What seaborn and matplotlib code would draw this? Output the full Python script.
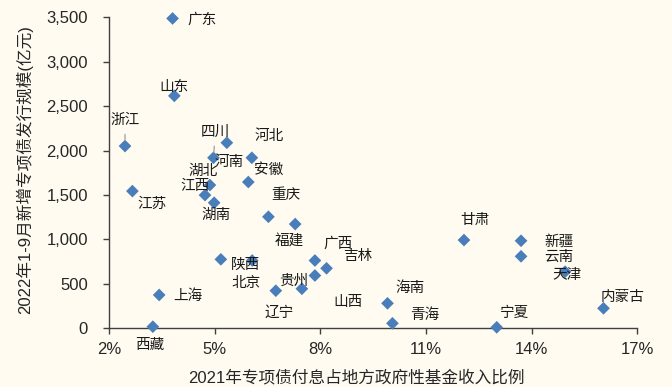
import matplotlib
matplotlib.use('Agg')
import matplotlib.pyplot as plt
import matplotlib.ticker as mticker
import seaborn as sns
import pandas as pd

# data
provinces = ['广东', '山东', '浙江', '四川', '河南', '河北', '安徽', '湖北', '江西', '湖南',
             '江苏', '重庆', '福建', '陕西', '北京', '上海', '西藏', '辽宁', '贵州', '广西',
             '吉林', '山西', '海南', '青海', '甘肃', '新疆', '云南', '天津', '宁夏', '内蒙古']
ratio = [3.81, 3.86, 2.46, 4.97, 5.35, 6.06, 5.96, 4.87, 4.73, 4.99,
         2.67, 6.53, 7.29, 5.18, 6.07, 3.43, 3.25, 6.74, 7.48, 7.85,
         8.18, 7.85, 9.91, 10.05, 12.08, 13.70, 13.70, 14.95, 13.01, 16.04]
issuance = [3487, 2616, 2051, 1919, 2088, 1919, 1646, 1612, 1499, 1413,
            1544, 1255, 1173, 776, 763, 375, 18, 423, 445, 763,
            675, 594, 281, 56, 993, 985, 810, 637, 11, 225]
x_ticks = [2, 5, 8, 11, 14, 17]
y_ticks = [0, 500, 1000, 1500, 2000, 2500, 3000, 3500]

# label placement in pixels (right, down) from each point
label_offsets = {
    '广东': (29, 1), '山东': (0, -9), '浙江': (0, -26), '四川': (2, -26), '河南': (2, 19),
    '河北': (17, -22), '安徽': (20, -12), '湖北': (-7, -14), '江西': (-10, -9), '湖南': (2, 12),
    '江苏': (20, 13), '重庆': (17, -22), '福建': (-6, 18), '陕西': (25, 6), '北京': (-6, 23),
    '上海': (29, 1), '西藏': (-3, 18), '辽宁': (3, 22), '贵州': (-8, -8), '广西': (23, -17),
    '吉林': (31, -12), '山西': (33, 26), '海南': (23, -15), '青海': (32, -8), '甘肃': (11, -20),
    '新疆': (38, 1), '云南': (38, 1), '天津': (2, 3), '宁夏': (18, -14), '内蒙古': (19, -11),
}
leader = ['浙江', '四川']

df = pd.DataFrame({'province': provinces, 'ratio': ratio, 'issuance': issuance})

sns.set_style('ticks')
plt.rcParams['font.family'] = ['Liberation Sans', 'Noto Sans CJK SC']
bg = '#FFFBF0'

fig = plt.figure(figsize=(6.72, 3.87), dpi=100, facecolor=bg)
ax = fig.add_axes([0.1619, 0.1517, 0.7865, 0.8036])
ax.set_facecolor(bg)

sns.scatterplot(data=df, x='ratio', y='issuance', marker='D', s=42,
                color='#4A7EBB', edgecolor='none', ax=ax, zorder=3, clip_on=False)

for name, xv, yv in zip(provinces, ratio, issuance):
    dx, dy = label_offsets[name]
    kw = {}
    if name in leader:
        kw['arrowprops'] = dict(arrowstyle='-', color='#A6A6A6', lw=1, shrinkA=3, shrinkB=4)
    ax.annotate(name, (xv, yv), xytext=(dx * 0.72, -dy * 0.72), textcoords='offset points',
                ha='center', va='center', fontsize=10.5, color='#1A1A1A',
                family=['Noto Sans CJK SC'], zorder=4, **kw)

ax.set_xlim(2, 17)
ax.set_ylim(0, 3500)
ax.set_xticks(x_ticks)
ax.set_yticks(y_ticks)
ax.xaxis.set_major_formatter(mticker.FuncFormatter(lambda v, p: f'{v:.0f}%'))
ax.yaxis.set_major_formatter(mticker.FuncFormatter(lambda v, p: f'{v:,.0f}'))
ax.tick_params(axis='x', length=4, width=1, color='#404040', pad=6, labelsize=12)
ax.tick_params(axis='y', length=4, width=1, color='#404040', pad=11, labelsize=12)
for s in ['top', 'right']:
    ax.spines[s].set_visible(False)
for s in ['left', 'bottom']:
    ax.spines[s].set_color('#404040')
    ax.spines[s].set_linewidth(1)

ax.set_xlabel('2021年专项债付息占地方政府性基金收入比例', fontsize=12)
ax.set_ylabel('2022年1-9月新增专项债发行规模(亿元)', fontsize=12)
ax.xaxis.set_label_coords(0.468, -0.132)
ax.yaxis.set_label_coords(-0.143, 0.512)

fig.savefig('out.png', dpi=100, facecolor=bg)
